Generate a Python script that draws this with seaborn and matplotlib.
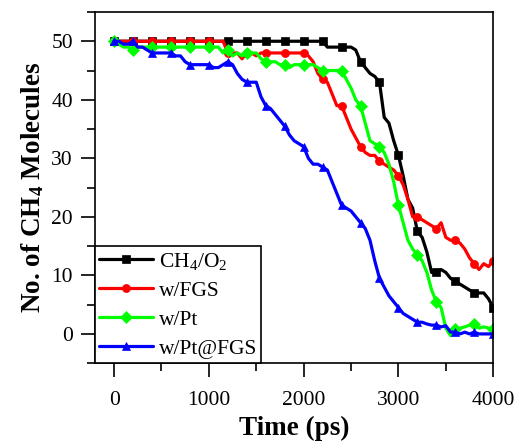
import numpy as np
import pandas as pd
import seaborn as sns
import matplotlib
matplotlib.use("Agg")
import matplotlib.pyplot as plt
from matplotlib.ticker import MultipleLocator

# time axis, sampled every 50 ps
time_ps = np.arange(0, 4001, 50)

# values, one row per 500 ps
ch4_o2 = [50] * 40 + [
    50, 50, 50, 50, 50, 49, 49, 49, 49, 49,
    49, 48.5, 46.5, 45.5, 44.5, 44, 43, 37, 36, 33,
    30.5, 27, 23, 21.5, 17.5, 16.5, 14, 10.5, 10.5, 11,
    10.5, 9.5, 9, 8.5, 8, 7.5, 7, 7, 7, 6,
    4.5]
w_fgs = [50] * 20 + [
    50, 50, 50, 50, 48, 48, 48, 47, 48, 48,
    47.5, 48, 48, 48, 48, 48, 48, 48, 48, 48,
    48, 47.5, 46.5, 44.5, 43.5, 43, 41, 39, 39, 37,
    35, 33.5, 32, 31, 30.5, 30.5, 29.5, 29, 28.5, 28,
    27, 25.5, 23, 20, 20, 19.5, 19, 18.5, 18, 19,
    16.5, 16, 16, 15.5, 14.5, 13, 12, 11, 12, 11.5,
    12.5]
w_pt = [
    50, 49.5, 49, 49, 48.5, 49, 49, 49, 49, 49,
    49, 49, 49, 49, 49, 49, 49, 49, 49, 49,
    49, 49, 49, 48, 48.5, 47.5, 48, 47.5, 48, 48,
    48, 47, 46.5, 46.5, 46.5, 46, 46, 45.5, 46, 46,
    46, 46, 46, 45.5, 45, 45, 45, 45, 45, 43.5,
    42, 40, 39, 36, 33, 32.5, 32, 31, 29, 26,
    22, 19, 16, 14.5, 13.5, 12.5, 10.5, 7.5, 5.5, 4.5,
    1, -0.3, 0.8, 1, 1.2, 1.5, 1.7, 1, 1.2, 1,
    0.8]
w_pt_fgs = [
    50, 50, 49.5, 49.5, 50, 49, 49, 48.5, 48, 48,
    48, 48, 48, 47.5, 47.5, 46.5, 46, 46, 46, 46,
    46, 45.5, 45.5, 46, 46.5, 46, 44.5, 43.5, 43, 43,
    43, 40.5, 39, 38.5, 37.5, 36.5, 35.5, 34, 33, 32.5,
    32, 30, 29, 29, 28.5, 28, 26, 24, 22, 21.5,
    21, 20, 19, 18, 16, 12.5, 9.5, 8, 6.5, 5.5,
    4.5, 3.5, 3, 2.5, 2, 2, 1.7, 1.5, 1.5, 1.2,
    1.4, 0.3, 0.3, 0, 0.3, 0, 0.3, 0, 0, 0,
    0]

labels = ["CH$_4$/O$_2$", "w/FGS", "w/Pt", "w/Pt@FGS"]
colors = ["#000000", "#ff0000", "#00ff00", "#0000ff"]
markers = ["s", "o", "D", "^"]

sns.set_style("ticks")
plt.rcParams["font.family"] = ["Liberation Serif", "DejaVu Serif"]
plt.rcParams["mathtext.default"] = "regular"
plt.rcParams["text.color"] = "black"
plt.rcParams["axes.labelcolor"] = "black"
plt.rcParams["xtick.color"] = "black"
plt.rcParams["ytick.color"] = "black"

fig = plt.figure(figsize=(5.17, 4.44), dpi=100)
ax = fig.add_axes([0.184, 0.182, 0.770, 0.791])

for vals, lab, col, mk in zip([ch4_o2, w_fgs, w_pt, w_pt_fgs], labels, colors, markers):
    sns.lineplot(x=time_ps, y=vals, ax=ax, color=col, marker=mk, label=lab,
                 markevery=4, lw=2.3, ms=5.8, markeredgecolor=col, mew=0.5)

ax.set_xlim(-200, 4000)
ax.set_ylim(-5, 55)
ax.xaxis.set_major_locator(MultipleLocator(1000))
ax.xaxis.set_minor_locator(MultipleLocator(500))
ax.yaxis.set_major_locator(MultipleLocator(10))
ax.yaxis.set_minor_locator(MultipleLocator(5))
ax.tick_params(which="major", direction="out", length=10, width=1.2, labelsize=15.5,
               color="black", labelcolor="black")
ax.tick_params(which="minor", direction="out", length=5.5, width=1.2, color="black")
ax.tick_params(axis="x", which="major", pad=10)
ax.tick_params(axis="y", which="major", pad=6)
for s in ax.spines.values():
    s.set_visible(True)
    s.set_linewidth(1.2)
    s.set_color("black")

ax.set_xlabel("Time (ps)", fontsize=19.5, fontweight="bold", labelpad=4, color="black")
ax.set_ylabel("No. of CH$_4$ Molecules", fontsize=19.5, fontweight="bold", labelpad=4, color="black")

leg = ax.legend(loc="lower left", bbox_to_anchor=(0, 0), borderaxespad=0, fontsize=15.5,
                frameon=True, fancybox=False, framealpha=1, edgecolor="black",
                handlelength=2.5, handletextpad=0.25, labelspacing=0.42, borderpad=0.2)
leg.get_frame().set_linewidth(1.2)
for txt in leg.get_texts():
    txt.set_color("black")

fig.savefig("out.png", dpi=100)
